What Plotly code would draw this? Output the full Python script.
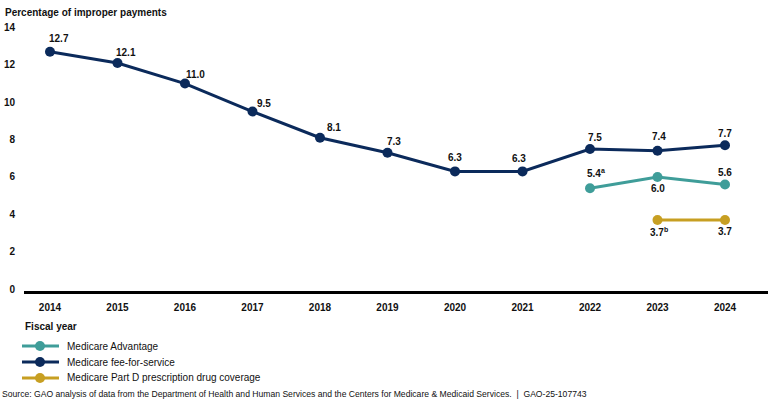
import plotly.graph_objects as go

# ---------------- data ----------------
years = [2014, 2015, 2016, 2017, 2018, 2019, 2020, 2021, 2022, 2023, 2024]
ffs_values = [12.7, 12.1, 11.0, 9.5, 8.1, 7.3, 6.3, 6.3, 7.5, 7.4, 7.7]

ma_years = [2022, 2023, 2024]
ma_values = [5.4, 6.0, 5.6]
ma_notes = ["a", "", ""]

partd_years = [2023, 2024]
partd_values = [3.7, 3.7]
partd_notes = ["b", ""]

y_ticks = [0, 2, 4, 6, 8, 10, 12, 14]

series_names = ["Medicare Advantage", "Medicare fee-for-service",
                "Medicare Part D prescription drug coverage"]

# ---------------- style ----------------
FONT = "Liberation Sans, Arial, sans-serif"
NAVY = "#0b2a5b"
TEAL = "#3f9d99"
GOLD = "#c79f22"
series_colors = [TEAL, NAVY, GOLD]

W, H = 780, 400
ML, MR, MT, MB = 24, 12, 20, 109
PW, PH = W - ML - MR, H - MT - MB

def px_x(px):  # pixel -> paper x
    return (px - ML) / PW

def px_y(py):  # pixel -> paper y
    return (H - MB - py) / PH

# label offsets in pixels (dx right, dy up)
ffs_dx = [9, 9, 11, 12, 14, 7, 0, -4, 5, 1, 0]
ffs_dy = [13, 10, 9, 8, 10, 11, 14, 13, 11, 14, 12]
ma_dx = [6, 0, 0]
ma_dy = [15, -12, 12]
partd_dx = [1, 0]
partd_dy = [-12, -12]

fig = go.Figure()

def add_series(xs, ys, name, color):
    fig.add_trace(go.Scatter(
        x=xs, y=ys, name=name, mode="lines+markers",
        line=dict(color=color, width=3),
        marker=dict(color=color, size=10),
        hoverinfo="x+y", showlegend=False,
    ))

add_series(ma_years, ma_values, series_names[0], TEAL)
add_series(years, ffs_values, series_names[1], NAVY)
add_series(partd_years, partd_values, series_names[2], GOLD)

annotations = []
shapes = []

def add_labels(xs, ys, notes, dxs, dys):
    for x, y, n, dx, dy in zip(xs, ys, notes, dxs, dys):
        txt = f"<b>{y:.1f}</b>" + (f"<sup><b>{n}</b></sup>" if n else "")
        annotations.append(dict(
            x=x, y=y, xref="x", yref="y", text=txt, showarrow=False,
            xshift=dx, yshift=dy, xanchor="center", yanchor="middle",
            font=dict(family=FONT, size=10, color="#111111"),
        ))

add_labels(years, ffs_values, [""] * len(years), ffs_dx, ffs_dy)
add_labels(ma_years, ma_values, ma_notes, ma_dx, ma_dy)
add_labels(partd_years, partd_values, partd_notes, partd_dx, partd_dy)

# axis title (top-left) and x title
annotations.append(dict(
    x=px_x(3), y=px_y(13), xref="paper", yref="paper", xanchor="left", yanchor="middle",
    showarrow=False, text="<b>Percentage of improper payments</b>",
    font=dict(family=FONT, size=10, color="#111111"),
))
annotations.append(dict(
    x=px_x(23), y=px_y(326), xref="paper", yref="paper", xanchor="left", yanchor="middle",
    showarrow=False, text="<b>Fiscal year</b>",
    font=dict(family=FONT, size=10, color="#111111"),
))
annotations.append(dict(
    x=px_x(0), y=px_y(394), xref="paper", yref="paper", xanchor="left", yanchor="middle",
    showarrow=False,
    text="Source: GAO analysis of data from the Department of Health and Human Services "
         "and the Centers for Medicare &amp; Medicaid Services.  |  GAO-25-107743",
    font=dict(family=FONT, size=8.6, color="#111111"),
))

# manual legend
legend_rows = [346, 362, 378]
for name, color, py in zip(series_names, series_colors, legend_rows):
    shapes.append(dict(type="line", xref="paper", yref="paper",
                       x0=px_x(22), x1=px_x(59), y0=px_y(py), y1=px_y(py),
                       line=dict(color=color, width=3)))
    shapes.append(dict(type="circle", xref="paper", yref="paper",
                       xsizemode="pixel", ysizemode="pixel",
                       xanchor=px_x(40), yanchor=px_y(py),
                       x0=-5, x1=5, y0=-5, y1=5,
                       fillcolor=color, line=dict(color=color, width=0)))
    annotations.append(dict(
        x=px_x(65), y=px_y(py), xref="paper", yref="paper",
        xanchor="left", yanchor="middle", showarrow=False, text=name,
        font=dict(family=FONT, size=10, color="#111111"),
    ))

fig.update_layout(
    width=W, height=H,
    margin=dict(l=ML, r=MR, t=MT, b=MB, autoexpand=False),
    paper_bgcolor="white", plot_bgcolor="white",
    font=dict(family=FONT, size=10, color="#111111"),
    showlegend=False,
    annotations=annotations,
    shapes=shapes,
    xaxis=dict(
        range=[2013.615, 2024.637], tickvals=years,
        ticktext=[f"<b>{y}</b>" for y in years],
        showgrid=False, zeroline=False, ticks="",
        showline=True, linecolor="black", linewidth=3,
        ticklabelstandoff=5, automargin=False,
        tickfont=dict(family=FONT, size=10, color="#111111"),
        fixedrange=True,
    ),
    yaxis=dict(
        range=[-0.1, 14.4], tickvals=y_ticks,
        ticktext=[f"<b>{t}</b>" for t in y_ticks],
        showgrid=False, zeroline=False, ticks="", showline=False,
        ticklabelstandoff=8, automargin=False,
        tickfont=dict(family=FONT, size=10, color="#111111"),
        fixedrange=True,
    ),
)

fig.write_html(
    "out.html",
    config={"displayModeBar": False},
    post_script="document.body.style.margin='0';document.body.style.padding='0';",
)
